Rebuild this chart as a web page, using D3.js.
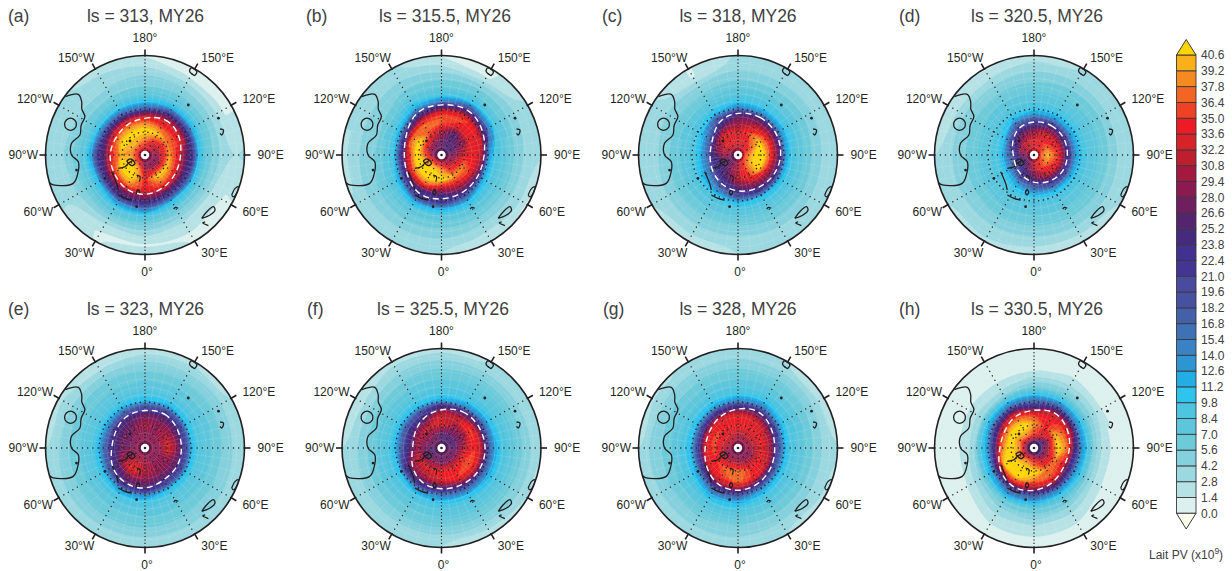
<!doctype html>
<html>
<head>
<meta charset="utf-8">
<title>Lait PV, MY26</title>
<script src="https://d3js.org/d3.v7.min.js"></script>
<style>
  body { margin: 0; background: #fff; }
  svg { display: block; font-family: "Liberation Sans", sans-serif; }
</style>
</head>
<body>
<svg width="1232" height="571"></svg>
<script>
// colour bar levels, bottom to top, and the colour above each one
var levels = [0,1.4,2.8,4.2,5.6,7,8.4,9.8,11.2,12.6,14,15.4,16.8,18.2,19.6,21,22.4,23.8,25.2,26.6,28,29.4,30.8,32.2,33.6,35,36.4,37.8,39.2,40.6];
var colours = ["#dcf0ee","#b6e2e5","#9bd8e0","#84d0dc","#6ccad9","#5dc6dc","#4ec5e0","#2ec4ee","#22aee5","#2e95d3","#3b82c4","#3f72b5","#4460a8","#4651a2","#4a4a9e","#453593","#43318f","#462a7e","#55246f","#6f1f60","#8b1a50","#a3193f","#be1e2d","#d9212a","#ed1c24","#ef4123","#f26522","#f58a20","#fbaf1a","#ffd400"];

var panelLabels = ["(a)","(b)","(c)","(d)","(e)","(f)","(g)","(h)"];
var panelTitles = ["ls = 313, MY26","ls = 315.5, MY26","ls = 318, MY26","ls = 320.5, MY26","ls = 323, MY26","ls = 325.5, MY26","ls = 328, MY26","ls = 330.5, MY26"];

// longitudes of the table columns (clockwise from the top) and latitudes of its rows
var lons = [180,150,120,90,60,30,0,-30,-60,-90,-120,-150];
var lats = [90,86,81,74,68,63,59,55,51,46,39,31,25];

var lonLabels = ["180°","150°E","120°E","90°E","60°E","30°E","0°","30°W","60°W","90°W","120°W","150°W"];

// PV, one row per latitude, one column per longitude
var fieldA = [
 [30,30,30,30,30,30,30,30,30,30,30,30],
 [33,32,30,29,28,28,28,30,32,33,33,33],
 [37,33,31,30,28,29,30,39,40,39,39,39],
 [42,41,38,39,41,41,35,42,43,39,42,42],
 [37,35,35,33,34,36,34,38,36,34,36,37],
 [29,31,31,27,27,28,29,28,28,26,27,28],
 [16,22,22,22,20,20,24,24,20,22,17,16],
 [10.5,12,12,11,10.5,11,16,14,11,13,10,10],
 [7.8,8,8,7.5,7,7.5,9.5,9,8,8.5,7.5,7.5],
 [5.8,6,6,5.5,5,5,6.5,6.5,6,6.5,5.5,5.5],
 [4.5,4,3.5,3.5,2.2,2.8,3.3,3,4.2,4.5,4,4],
 [2.4,1.2,1.2,2.8,1.2,1.3,1.2,1.2,3,3.2,3,3],
 [1.2,1.2,1.2,3,1.3,1.3,2.4,1.3,3,3,3.2,2]
];
var fieldB = [
 [27,27,27,27,27,27,27,27,27,27,27,27],
 [27,26,26,27,28,29,30,30,29,28,27,27],
 [27,26,26,29,31,33,38,40,39,34,30,29],
 [31,26,29,33,38,39,42,43,43,43,42,36],
 [37,34,34,34,34,32,31,36,35,33,37,38],
 [35,36,33,30,26,26,24,24,23,21,23,30],
 [27,30,26,13,12,18,22,22,13,10,12,20],
 [15,20,15,9.8,9.5,11,12,12,9,8,8.5,12],
 [9.5,11,9.5,8,8,8.5,8.5,8.5,7.5,6.5,7,9],
 [7,7.5,7,6.5,6.5,6.5,6.5,6.5,6,5.5,5.5,6.5],
 [5,5,5,4.5,4.5,4.5,4.8,5,5,4.5,4.5,5],
 [2.6,1.2,3.5,3.5,3,2.5,3.5,3.5,3.5,3.5,3.5,3.5],
 [1.2,1,3,3,1,2.5,2.8,2.8,3,1.8,3,3]
];
var fieldC = [
 [28,28,28,28,28,28,28,28,28,28,28,28],
 [31,31,33,35,35,33,30,28,27,28,29,30],
 [33,33,36,40,40,36,31,28,26,30,32,34],
 [32,36,41,43,42,35,31,26,23,25,29,33],
 [29,31,34,34,31,29,26,20,15,14,16,25],
 [25,26,26,26,25,22,19,13,11,10,11,18],
 [14,14,14,13,12,11,11,9.5,8.8,8.5,9,11],
 [10,10,10,9.5,9.3,9,8.8,8.2,8,7.5,8,9],
 [8.5,8.5,8.5,8,8,7.5,7.5,7.2,7,6.8,7,7.5],
 [6.8,6.8,6.8,6.5,6.5,6.5,6,6,6,5.8,6,6],
 [5,5,5.2,4.8,5,4.8,4.5,4.5,4.5,4.3,4.5,4.5],
 [3.5,3.5,3.5,3.5,3.3,3.2,3.2,3.2,3.3,3.4,3.5,1.3],
 [3,3,2.9,3,3,3,2.8,1.2,2.9,3,3,1.3]
];
var fieldD = [
 [30,30,30,30,30,30,30,30,30,30,30,30],
 [32,33,34,36,35,33,31,29,28,29,30,31],
 [33,34,37,40,38,35,31,27,24,27,30,32],
 [29,32,33,35,33,30,26,21,16,17,22,27],
 [21,24,24,24,23,20,16,12,10,10,11,18],
 [12.5,13,13,13,12,11,10,9.5,8.8,8.5,8.8,11],
 [9.8,10,10,10,9.6,9.2,8.8,8.4,8,7.8,8,9],
 [8.4,8.5,8.6,8.5,8.3,8,7.8,7.5,7.3,7.2,7.3,7.8],
 [7.6,7.6,7.8,7.6,7.5,7.2,7,7,6.7,6.5,6.8,7.1],
 [6.2,6.5,6.6,6.5,6.3,6.2,6,6,5.8,5.7,5.8,6],
 [5,5.2,5.2,5,5,4.8,4.6,4.6,4.6,4.6,4.6,4.5],
 [3.2,3.2,3,3.2,3.2,3,3,3.2,3.2,3.2,2.2,2.3],
 [2,2.8,2.8,2.8,2.8,1.8,1.8,2.5,2.8,2.8,2.5,1.2]
];
var fieldE = [
 [27,27,27,27,27,27,27,27,27,27,27,27],
 [28,28,28,28,28,28,28,29,28,28,28,28],
 [29,29,29,29,29,29,30,31,29,28,28,28],
 [30,29,31,33,29,29,31,34,30,27,27,28],
 [27,27,27,28,27,27,28,28,25,23,24,25],
 [19,21,20,19,20,20,24,24,18,16,15,17],
 [11,12,11,10.5,11,11,14,14,11,10.5,10,10.5],
 [9,9,9,8.7,8.7,8.7,9.5,9.5,8.8,8.6,8.5,8.7],
 [8,8,8,7.8,7.8,7.8,8.2,8.2,7.8,7.6,7.6,7.8],
 [7,7,7,6.8,6.8,6.8,7.2,7,6.8,6.6,6.5,6.7],
 [5.5,5.5,5.5,5.5,5.6,5.6,5.8,5.7,5.5,5.3,5.3,5.5],
 [3.5,3.5,3.8,3.8,4,4,4,4,4,3.5,3,2.6],
 [1.5,2,2.8,3,3,2.8,3,3,3,2.8,2.6,2.5]
];
var fieldF = [
 [26,26,26,26,26,26,26,26,26,26,26,26],
 [26,26,26,26,27,27,26,27,26,26,27,27],
 [26,26,26,27,27,28,27,28,26,27,28,28],
 [33,30,29,32,35,34,35,33,32,30,31,32],
 [32,32,36,35,36,35,32,30,29,24,25,26],
 [25,26,28,30,30,27,24,24,22,16,17,19],
 [12,14,17,18,18,17,15,14,11,10.5,10.5,11],
 [9.8,10,11,12,12,11,10.5,9.5,9,8.8,8.8,9],
 [8.5,8.6,9,9.5,9.5,9,8.8,8.4,8.2,7.8,7.8,8],
 [7.4,7.4,7.6,8,7.8,7.6,7.5,7,6.8,6.5,6.6,6.8],
 [5.8,5.8,5.8,6,5.8,5.8,5.7,5.5,5.3,4.9,4.8,5.4],
 [3.8,3.6,3.6,4,4,3.5,3.6,3.5,3.6,3.5,2.5,3.5],
 [2,2.8,3,2.9,2.6,1.5,2.8,2.8,2.9,2.8,1.8,2]
];
var fieldG = [
 [27,27,27,27,27,27,27,27,27,27,27,27],
 [29,29,29,28,28,28,28,28,28,29,30,30],
 [31,31,31,30,29,29,30,30,30,31,32,32],
 [35,34,34,34,34,35,38,37,35,36,36,34],
 [33,32,30,29,31,34,37,35,33,32,32,33],
 [24,25,21,18,19,23,29,28,21,19,19,22],
 [14,15,12,11,11.5,13,18,18,12,11,11,12],
 [10,10.5,9.5,9,9,10,12,12,9.8,9.3,9,9.5],
 [8.8,8.8,8.4,8,8,8.5,9.5,9.5,8.5,8,8,8.2],
 [7.3,7.3,7,6.8,6.8,7,7.5,7.5,7,6.8,6.8,7],
 [5.8,5.7,5.4,5,5,5.2,5.6,5.7,5.6,5.4,5.3,5.5],
 [4,3.7,3.4,3.4,3.4,3.5,4,4,4,4,3.6,3.8],
 [2.8,2.8,1.2,3,2.4,2.8,3,3,3,2.8,2.4,3]
];
var fieldH = [
 [23,23,23,23,23,23,23,23,23,23,23,23],
 [26,25,24,25,25,26,27,27,26,27,26,27],
 [35,32,28,30,30,31,35,38,36,38,36,38],
 [39,34,40,42,38,38,42,43,43,43,43,43],
 [35,34,36,37,33,36,37,41,41,36,36,37],
 [24,30,29,24,22,28,29,31,27,21,25,29],
 [16,18,15,14,13,15,18,18,13,12,14,16],
 [10.5,11,10.5,9.8,9.5,10,12,12.5,9.8,9,9.5,10],
 [6.5,6.5,6,5,5.5,7,7.5,7,5,3.8,4,4.5],
 [3.5,3.8,3.5,2.8,3,4.5,5,4.5,3,2.2,2.4,2.4],
 [1.3,1.5,1.4,1.2,1.3,2.2,2.8,2.5,1.2,1,1,1],
 [1,1,1,1,1,1,1.2,1,1,1,1,1],
 [1,1,1,1,1,1,1,1,1,1,1,1]
];
var fields = [fieldA,fieldB,fieldC,fieldD,fieldE,fieldF,fieldG,fieldH];

// latitude of the white dashed contour at each longitude in lons
var dashedA = [65.3,61.4,63.4,66,66,64.7,62.7,63.4,66,66,67.3,66];
var dashedB = [56.2,53.6,57.5,61.4,61.4,60.8,60.1,58.8,63.4,65.3,62.7,55.6];
var dashedC = [61.4,60.1,60.1,60.8,62.1,64,65.3,67.3,69.9,71.2,70.5,63.4];
var dashedD = [67.3,66.6,66.6,67.3,67.3,69.2,71.2,73.8,75.7,76.4,73.1,68.6];
var dashedE = [64.7,62.7,64.7,65.3,64.7,65.3,62.1,62.7,64,67.9,67.3,64.7];
var dashedF = [64,60.8,60.8,60.1,60.1,61.4,62.1,62.7,66.6,71.2,69.2,66];
var dashedG = [63.4,60.8,64,65.3,64,62.1,60.8,61.4,65.3,67.9,67.9,65.3];
var dashedH = [64.7,61.4,64,66,66.6,63.4,60.8,59.5,62.7,67.3,67.3,64.7];
var dashed = [dashedA,dashedB,dashedC,dashedD,dashedE,dashedF,dashedG,dashedH];

// topography lines [lon, lat], the same in all panels
var coastMain = [[-126.3,25.5],[-132.3,31.1],[-130.1,35.9],[-126,39],[-122.6,43.4],[-115,44],[-107.1,45.5],[-99,41.4],[-90,42],[-84.3,46.2],[-76,45],[-68.4,39.6],[-71.9,27],[-74,25]];
var craters = [
 [[-112.4,41.3],[-109.4,40.2],[-108.1,37.4],[-109.4,34.6],[-112.4,33.5],[-115.4,34.6],[-116.7,37.4],[-115.4,40.2],[-112.4,41.3]],
 [[148,29],[152,28],[152,25.5],[148,26],[148,29]],
 [[65.2,27.6],[69.7,27.2],[71.2,25.5],[68.6,25],[64.7,26],[65.2,27.6]],
 [[109.1,38.1],[107.7,36.2],[104.6,38.1],[106.1,39]],
 [[41.8,34.4],[47.4,35.2],[52.9,34],[51.8,31.8],[47.3,32.2],[41.8,34.4]],
 [[42,31.3],[40.4,31.8],[41.9,28]],
 [[28,50],[30,50.5],[32,49]],
 [[-63.4,70.5],[-59.7,74.8],[-63.4,77.8],[-66.8,81.7]],
 [[-71.9,77.4],[-74.4,80.3],[-50.2,81.5],[-51.3,78.9],[-71.9,77.4]],
 [[-22.6,75.8],[-13,75.5],[-12,72.2]],
 [[-11,67],[-8,65.5],[-10,63.5],[-13,65],[-11,67]],
 [[-63.4,65.6],[-45,63.8],[-37.3,61.2]],
 [[-33.7,58.6],[-24.8,58.8],[-16.5,59.2]]
];
var coastDots = [[116.6,36.3],[139.1,46.8],[-9.2,55.8],[-77.6,44.2],[-133,76.6],[-59.7,59.7]];

var panelX = [145,441.5,738,1034,145,441.5,738,1034];
var panelY = [155,155,155,155,448,448,448,448];
var titleX = [145.5,445,738,1037,145.5,443,738,1037];
var labelX = [8,306,602,899,8,307,603,899];

var R = 99.5, pad = 2;
var ink = "#231f20";
var svg = d3.select("svg");

svg.append("defs").append("clipPath").attr("id", "disc")
    .append("circle").attr("r", R);

// map scales: latitude to radius, table row to latitude, table column to angle
var radius = d3.scaleLinear().domain([90, 25]).range([0, R]);
var rowLat = d3.scaleLinear()
    .domain(d3.range(lats.length + 1))
    .range(lats.concat([15]))
    .clamp(true);
var colAngle = d3.scaleLinear()
    .domain([pad, pad + lons.length])
    .range([0, 2 * Math.PI]);
var lonAngle = function(lon){ return (180 - lon) * Math.PI / 180; };
var project = function(d){ return d3.pointRadial(lonAngle(d[0]), radius(d[1])); };

var closedLine = d3.line().curve(d3.curveCatmullRomClosed);
var roundLine = d3.line().curve(d3.curveBasisClosed);
var openLine = d3.line().curve(d3.curveCatmullRom);

function drawPanel(i){
    var g = svg.append("g")
        .attr("transform", "translate(" + panelX[i] + "," + panelY[i] + ")");
    var map = g.append("g").attr("clip-path", "url(#disc)");

    map.append("circle").attr("r", R).attr("fill", colours[0]);

    // wrap the table round in longitude so the contours close over the seam
    var field = fields[i];
    var w = lons.length + 2 * pad + 1, h = lats.length + 1, values = [];
    for (var y = 0; y < h; y++) {
        var row = field[Math.min(y, lats.length - 1)];
        for (var x = 0; x < w; x++) {
            values.push(row[(x - pad + lons.length * 2) % lons.length]);
        }
    }
    var bands = d3.contours().size([w, h]).thresholds(levels)(values);

    map.selectAll(".band")
        .data(bands)
        .enter().append("path")
        .attr("class", "band")
        .attr("fill", function(d, k){ return colours[k]; })
        .attr("d", function(d){
            var out = "";
            d.coordinates.forEach(function(poly){
                poly.forEach(function(ring){
                    var pts = ring.slice(0, -1).map(function(p){
                        return d3.pointRadial(colAngle(p[0] - 0.5), radius(rowLat(p[1] - 0.5)));
                    });
                    out += closedLine(pts);
                });
            });
            return out;
        });

    // faint seams of the original model grid
    d3.range(25, 90, 5).forEach(function(lat){
        map.append("circle").attr("r", radius(lat))
            .attr("fill", "none").attr("stroke", "#fff")
            .attr("stroke-width", 0.5).attr("stroke-opacity", 0.25);
    });
    d3.range(0, 360, 7.5).forEach(function(lon){
        var a = d3.pointRadial(lonAngle(lon), radius(85)), b = d3.pointRadial(lonAngle(lon), R);
        map.append("line").attr("x1", a[0]).attr("y1", a[1]).attr("x2", b[0]).attr("y2", b[1])
            .attr("stroke", "#fff").attr("stroke-width", 0.5).attr("stroke-opacity", 0.25);
    });

    // graticule
    [60, 75].forEach(function(lat){
        map.append("circle").attr("r", radius(lat))
            .attr("fill", "none").attr("stroke", ink).attr("stroke-width", 1.4)
            .attr("stroke-linecap", "round").attr("stroke-dasharray", "0.2 4.6");
    });
    lons.forEach(function(lon){
        var a = d3.pointRadial(lonAngle(lon), 0), b = d3.pointRadial(lonAngle(lon), R);
        map.append("line").attr("x1", a[0]).attr("y1", a[1]).attr("x2", b[0]).attr("y2", b[1])
            .attr("stroke", ink).attr("stroke-width", 1.3).attr("stroke-linecap", "round")
            .attr("stroke-dasharray", lon % 180 == 0 ? "0.2 3.2" : "0.2 5");
    });

    // topography
    map.append("path")
        .attr("d", openLine(coastMain.map(project)))
        .attr("fill", "none").attr("stroke", ink).attr("stroke-width", 1.3);
    map.selectAll(".crater")
        .data(craters)
        .enter().append("path")
        .attr("class", "crater")
        .attr("d", function(d){ return openLine(d.map(project)); })
        .attr("fill", "none").attr("stroke", ink).attr("stroke-width", 1.3);
    map.selectAll(".dot")
        .data(coastDots)
        .enter().append("circle")
        .attr("class", "dot")
        .attr("transform", function(d){ return "translate(" + project(d) + ")"; })
        .attr("r", 1.4).attr("fill", ink);

    // white dashed contour
    var ring = lons.map(function(lon, k){ return project([lon, dashed[i][k]]); });
    map.append("path")
        .attr("d", roundLine(ring))
        .attr("fill", "none").attr("stroke", "#fff")
        .attr("stroke-width", 1.4).attr("stroke-dasharray", "6 4");

    // pole marker
    g.append("circle").attr("r", 4.2).attr("fill", "#fff");
    g.append("circle").attr("r", 1.3).attr("fill", ink);

    g.append("circle").attr("r", R)
        .attr("fill", "none").attr("stroke", ink).attr("stroke-width", 1.6);

    // ticks and longitude labels
    lons.forEach(function(lon, k){
        var a = d3.pointRadial(lonAngle(lon), R), b = d3.pointRadial(lonAngle(lon), R + 6);
        g.append("line").attr("x1", a[0]).attr("y1", a[1]).attr("x2", b[0]).attr("y2", b[1])
            .attr("stroke", ink).attr("stroke-width", 1.6);
        var polar = lon % 180 == 0;
        var p = d3.pointRadial(lonAngle(lon), polar ? 117 : 112.5);
        g.append("text")
            .attr("x", p[0] + (lon == 0 ? 2 : (lon < 0 ? 5.5 : 0)))
            .attr("y", p[1] + 4.3)
            .attr("text-anchor", polar ? "middle" : (lon > 0 ? "start" : "end"))
            .attr("font-size", 12).attr("fill", ink)
            .text(lonLabels[k]);
    });

    svg.append("text").attr("x", labelX[i]).attr("y", panelY[i] - 133)
        .attr("font-size", 17.5).attr("fill", "#404041").text(panelLabels[i]);
    svg.append("text").attr("x", titleX[i]).attr("y", panelY[i] - 133)
        .attr("text-anchor", "middle")
        .attr("font-size", 17.5).attr("fill", "#404041").text(panelTitles[i]);
}

d3.range(8).forEach(drawPanel);

// colour bar
var barY = d3.scaleLinear().domain([0, 40.6]).range([513.3, 55]);
var bar = svg.append("g");
bar.selectAll("rect")
    .data(levels.slice(0, -1))
    .enter().append("rect")
    .attr("x", 1176.5).attr("width", 19.5)
    .attr("y", function(d, k){ return barY(levels[k + 1]); })
    .attr("height", function(d, k){ return barY(levels[k]) - barY(levels[k + 1]); })
    .attr("fill", function(d, k){ return colours[k]; })
    .attr("stroke", "#3a3a3c").attr("stroke-width", 0.9);
bar.append("path")
    .attr("d", "M1176.5," + barY(40.6) + "L1186.2,39.5L1196," + barY(40.6) + "Z")
    .attr("fill", colours[29]).attr("stroke", "#3a3a3c").attr("stroke-width", 1);
bar.append("path")
    .attr("d", "M1176.5," + barY(0) + "L1186.2,529L1196," + barY(0) + "Z")
    .attr("fill", "#fffdee").attr("stroke", "#3a3a3c").attr("stroke-width", 1);

var barAxis = svg.append("g")
    .attr("transform", "translate(1196,0)")
    .call(d3.axisRight(barY).tickValues(levels).tickSize(0).tickPadding(5)
        .tickFormat(d3.format(".1f")));
barAxis.select(".domain").remove();
barAxis.selectAll("text")
    .attr("font-family", "'Liberation Sans', sans-serif")
    .attr("font-size", 12).attr("fill", "#404041");

var cap = svg.append("text").attr("x", 1149).attr("y", 559)
    .attr("font-size", 12).attr("fill", "#404041");
cap.append("tspan").text("Lait PV (x10");
cap.append("tspan").attr("dy", -5).attr("font-size", 8.5).text("9");
cap.append("tspan").attr("dy", 5).text(")");
</script>
</body>
</html>
